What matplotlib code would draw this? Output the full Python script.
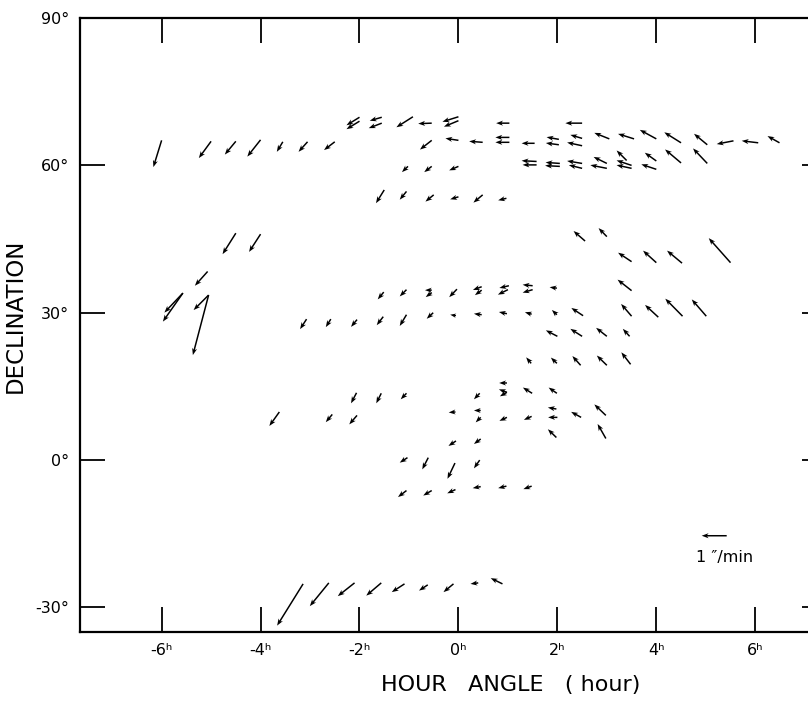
import matplotlib
matplotlib.use("Agg")
import matplotlib.pyplot as plt

# arrow tails: hour angle (h) and declination (deg)
hour_angle = [
    -6.0, -5.0, -4.5, -4.0, -3.55, -3.05, -2.5,
    -2.0, -2.0, -1.55, -1.55, -0.92, -0.54, 0.0, 0.0, 1.03, 2.5,
    -0.54, 0.0, 0.49, 1.03, 1.03, 1.54, 2.03, 2.03, 2.5, 2.5, 3.05, 3.55, 4.0, 4.5, 5.03, 5.56, 6.06, 6.49,
    1.58, 1.58, 2.05, 2.05, 2.5, 2.5, 3.0, 3.0, 3.4, 3.5, 3.5, 4.0, 4.0, 4.5, 5.03,
    -1.02, -0.54, 0.0,
    -1.5, -1.05, -0.5, 0.0, 0.49, 0.97,
    -4.5, -4.0, -5.07, -5.57, -5.57, -5.05, -5.05,
    -3.07, -2.58, -2.05, -1.52, -1.05, -0.51, -0.05, 0.47, 0.98, 1.48, 1.99, 2.52, 3.5, 4.04, 4.53, 5.01,
    -1.51, -1.05, -0.54, -0.54, -0.03, 0.47, 0.47, 1.02, 1.0, 1.5, 1.5, 1.99, 3.5,
    2.0, 2.5, 3.0, 3.46,
    1.47, 1.99, 2.47, 3.0, 3.48,
    2.56, 3.0, 3.5, 4.0, 4.52, 5.5,
    -2.06, -1.56, -1.05, 0.43, 0.98, 0.98, 0.98, 1.49, 1.99,
    -3.62, -2.55, -2.05, -0.06, 0.45, 0.45, 0.98, 1.48, 1.98, 2.0, 2.48, 2.98, 1.98, 2.98,
    -0.05, 0.45,
    -1.03, -0.61, -0.07, 0.43,
    -1.05, -0.54, -0.06, 0.45, 0.97, 1.48,
    -3.14, -2.62, -2.1, -1.56, -1.09, -0.62, -0.1, 0.4, 0.89,
]
declination = [
    65.1, 64.9, 64.9, 65.2, 64.8, 64.8, 64.8,
    69.8, 69.0, 69.8, 68.6, 69.9, 68.6, 69.9, 69.1, 68.6, 68.6,
    65.1, 65.1, 64.7, 65.7, 64.7, 64.5, 65.3, 64.2, 65.5, 64.0, 65.4, 65.4, 65.4, 64.6, 64.2, 65.0, 64.6, 64.6,
    60.8, 60.1, 60.4, 59.8, 60.4, 59.4, 60.4, 59.4, 61.0, 60.0, 59.4, 60.9, 59.2, 60.5, 60.4,
    59.8, 59.8, 59.8,
    55.0, 54.7, 54.0, 53.6, 54.0, 53.3,
    46.2, 46.0, 38.4, 34.0, 34.0, 33.6, 33.6,
    28.7, 28.7, 28.6, 29.2, 29.6, 30.0, 29.4, 29.6, 29.8, 29.7, 29.6, 29.4, 29.3, 29.1, 29.3, 29.3,
    34.2, 34.7, 34.1, 34.6, 34.8, 35.3, 34.6, 35.5, 34.7, 35.5, 34.7, 35.0, 34.5,
    25.2, 25.2, 25.2, 25.2,
    19.7, 19.7, 19.3, 19.3, 19.5,
    44.6, 45.5, 40.4, 40.2, 40.1, 40.2,
    13.7, 13.6, 13.6, 13.6, 15.7, 13.8, 13.8, 13.6, 13.6,
    9.8, 9.3, 9.1, 9.8, 10.1, 8.7, 8.7, 8.9, 10.4, 8.7, 8.7, 9.1, 4.6, 4.4,
    3.9, 4.3,
    0.5, 0.5, -0.6, 0.0,
    -6.2, -6.2, -6.0, -5.4, -5.3, -5.3,
    -25.2, -25.0, -25.0, -25.0, -25.2, -25.4, -25.2, -25.0, -25.2,
]
# apparent motion (arcsec/min): east-west and north-south components
u_motion = [
    -0.33, -0.49, -0.44, -0.53, -0.24, -0.36, -0.43,
    -0.52, -0.52, -0.48, -0.52, -0.66, -0.54, -0.64, -0.58, -0.53, -0.67,
    -0.47, -0.52, -0.54, -0.56, -0.56, -0.52, -0.49, -0.52, -0.47, -0.60, -0.60, -0.64, -0.66, -0.67, -0.53, -0.67, -0.66, -0.48,
    -0.60, -0.56, -0.57, -0.59, -0.60, -0.53, -0.53, -0.66, -0.40, -0.60, -0.60, -0.46, -0.60, -0.64, -0.57,
    -0.24, -0.30, -0.37,
    -0.33, -0.27, -0.33, -0.33, -0.37, -0.33,
    -0.53, -0.46, -0.51, -0.80, -0.74, -0.60, -0.63,
    -0.26, -0.20, -0.24, -0.26, -0.27, -0.26, -0.23, -0.31, -0.32, -0.27, -0.20, -0.47, -0.42, -0.53, -0.69, -0.58,
    -0.24, -0.27, -0.24, -0.27, -0.31, -0.35, -0.27, -0.38, -0.40, -0.40, -0.40, -0.29, -0.56,
    -0.46, -0.47, -0.43, -0.27,
    -0.20, -0.24, -0.33, -0.40, -0.37,
    -0.46, -0.33, -0.54, -0.53, -0.60, -0.87,
    -0.22, -0.20, -0.23, -0.23, -0.31, -0.32, -0.28, -0.37, -0.33,
    -0.40, -0.26, -0.31, -0.27, -0.27, -0.20, -0.30, -0.31, -0.34, -0.37, -0.40, -0.46, -0.34, -0.33,
    -0.30, -0.27,
    -0.31, -0.24, -0.30, -0.23,
    -0.34, -0.34, -0.33, -0.32, -0.33, -0.33,
    -1.04, -0.76, -0.67, -0.60, -0.51, -0.35, -0.40, -0.31, -0.47,
]
v_motion = [
    -1.07, -0.67, -0.53, -0.67, -0.40, -0.40, -0.33,
    -0.32, -0.32, -0.14, -0.20, -0.42, -0.02, -0.20, -0.24, 0.0, 0.0,
    -0.37, 0.08, 0.04, 0.0, 0.0, 0.0, 0.09, 0.07, 0.14, 0.13, 0.24, 0.20, 0.36, 0.42, 0.44, -0.13, 0.08, 0.27,
    0.03, 0.0, 0.04, 0.03, 0.10, 0.13, 0.26, 0.13, 0.40, 0.20, 0.13, 0.33, 0.20, 0.54, 0.60,
    -0.23, -0.23, -0.16,
    -0.53, -0.33, -0.27, -0.10, -0.31, -0.08,
    -0.84, -0.71, -0.57, -1.14, -0.78, -0.60, -2.40,
    -0.40, -0.32, -0.29, -0.34, -0.45, -0.24, 0.04, 0.04, 0.07, 0.08, 0.19, 0.31, 0.49, 0.49, 0.70, 0.67,
    -0.29, -0.27, -0.18, 0.0, -0.32, -0.13, -0.20, -0.09, -0.20, 0.04, -0.12, 0.04, 0.44,
    0.24, 0.30, 0.34, 0.30,
    0.24, 0.23, 0.37, 0.39, 0.48,
    0.40, 0.34, 0.36, 0.48, 0.50, 0.98,
    -0.42, -0.40, -0.24, -0.24, 0.0, 0.12, -0.16, 0.23, 0.23,
    -0.56, -0.31, -0.36, -0.02, 0.0, -0.20, -0.14, -0.14, 0.06, 0.0, 0.22, 0.44, 0.33, 0.58,
    -0.20, -0.20,
    -0.20, -0.47, -0.63, -0.33,
    -0.26, -0.20, -0.15, -0.06, -0.08, -0.12,
    -1.67, -0.93, -0.53, -0.51, -0.33, -0.23, -0.33, -0.04, 0.23,
]

x_ticks = [-6, -4, -2, 0, 2, 4, 6]
x_labels = ["-6ʰ", "-4ʰ", "-2ʰ", "0ʰ", "2ʰ", "4ʰ", "6ʰ"]
y_ticks = [-30, 0, 30, 60, 90]
y_labels = ["-30°", "0°", "30°", "60°", "90°"]

fig = plt.figure(figsize=(8.08, 7.02), dpi=100)
ax = fig.add_axes([0.099, 0.0997, 0.9245, 0.8746])

# 1"/min = 0.25 inch on the page
q = ax.quiver(hour_angle, declination, u_motion, v_motion,
              angles="uv", scale_units="inches", scale=4,
              units="dots", width=1.5, headwidth=3.4, headlength=4.6,
              headaxislength=3.6, color="black", pivot="tail")
ax.quiverkey(q, 5.17, -15.4, 1, " ", angle=180, coordinates="data",
             labelpos="S")
ax.text(4.8, -19.8, "1 ″/min", fontsize=11.5, va="center", ha="left")

ax.set_xlim(-7.65, 7.45)
ax.set_ylim(-35, 90)
ax.set_xticks(x_ticks)
ax.set_xticklabels(x_labels, fontsize=11.5)
ax.set_yticks(y_ticks)
ax.set_yticklabels(y_labels, fontsize=11.5)
ax.tick_params(direction="in", length=18, width=1.3, top=True, right=True,
               pad=8)
for s in ax.spines.values():
    s.set_linewidth(1.6)

ax.set_xlabel("HOUR   ANGLE   ( hour)", fontsize=16)
ax.xaxis.set_label_coords(0.576, -0.07)
ax.set_ylabel("DECLINATION", fontsize=16.5)
ax.yaxis.set_label_coords(-0.071, 0.515)

fig.savefig("out.png", dpi=100)
